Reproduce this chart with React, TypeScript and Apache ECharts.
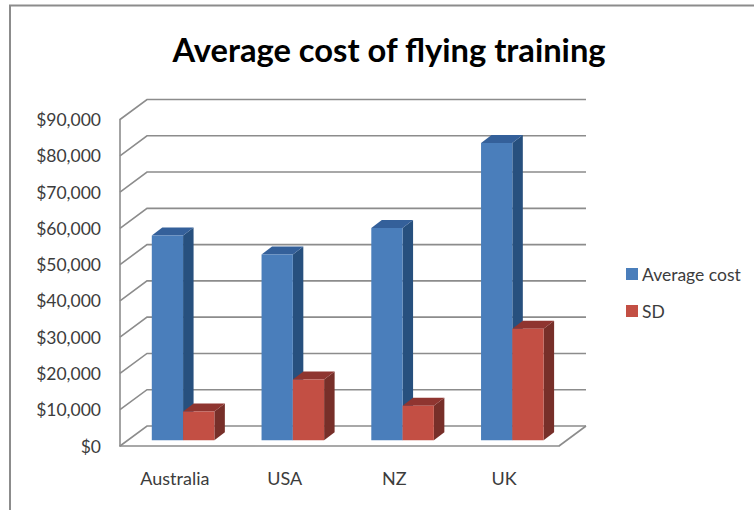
import React, { useEffect, useRef } from "react";
import * as echarts from "echarts";

const chartTitle = "Average cost of flying training";
const categories = ["Australia", "USA", "NZ", "UK"];
const seriesNames = ["Average cost", "SD"];
const averageCost = [56400, 51200, 58500, 81900];
const standardDeviation = [7900, 16700, 9500, 30700];
const yTicks = [0, 10000, 20000, 30000, 40000, 50000, 60000, 70000, 80000, 90000];

const FONT = "Lato";
const GRID_LINE = "#8c8c8c";
const TEXT = "#3c3c3c";
const WALL_DX = 27;
const WALL_DY = 20;
const BAR_INSET_X = 8.2;
const BAR_INSET_Y = 5.8;
const BAR_DX = 10.5;
const BAR_DY = 8;
const BAR_BAND_RATIO = 0.285;

const palettes = [
  { front: "#4a7ebb", top: "#34609a", side: "#27507e" },
  { front: "#c34f44", top: "#8f3530", side: "#772f29" },
];

const fmt = (v: number) => "$" + v.toLocaleString("en-US");

const renderWall = (params: any, api: any) => {
  const cs = params.coordSys;
  const value = api.value(1);
  const y = api.coord([0, value])[1];
  const x0 = cs.x;
  const x1 = x0 + WALL_DX;
  const x2 = cs.x + cs.width + WALL_DX;
  const lineStyle = { stroke: GRID_LINE, lineWidth: 1.6, fill: "none" };
  const children: any[] = [
    {
      type: "polyline",
      shape: { points: [[x0, y], [x1, y - WALL_DY], [x2, y - WALL_DY]] },
      style: lineStyle,
    },
  ];
  if (value === 0) {
    children.push({
      type: "line",
      shape: { x1: cs.x + cs.width, y1: y, x2, y2: y - WALL_DY },
      style: lineStyle,
    });
  }
  return { type: "group", children };
};

const renderBar = (seriesIndex: number) => (_params: any, api: any) => {
  const cat = api.value(0);
  const val = api.value(1);
  const band = api.size([1, 0])[0];
  const width = band * BAR_BAND_RATIO;
  const top = api.coord([cat, val]);
  const base = api.coord([cat, 0]);
  const left = top[0] + BAR_INSET_X - width + seriesIndex * width;
  const right = left + width;
  const yTop = top[1] - BAR_INSET_Y;
  const yBase = base[1] - BAR_INSET_Y;
  const p = palettes[seriesIndex];
  return {
    type: "group",
    children: [
      {
        type: "polygon",
        shape: { points: [[right, yTop], [right + BAR_DX, yTop - BAR_DY], [right + BAR_DX, yBase - BAR_DY], [right, yBase]] },
        style: { fill: p.side },
      },
      {
        type: "polygon",
        shape: { points: [[left, yTop], [left + BAR_DX, yTop - BAR_DY], [right + BAR_DX, yTop - BAR_DY], [right, yTop]] },
        style: { fill: p.top },
      },
      {
        type: "rect",
        shape: { x: left, y: yTop, width, height: yBase - yTop },
        style: { fill: p.front },
      },
    ],
  };
};

export default function App() {
  const ref = useRef<HTMLDivElement>(null);
  useEffect(() => {
    const chart = echarts.init(ref.current!, null, { renderer: "svg" });
    chart.setOption({
      animation: false,
      backgroundColor: "#ffffff",
      textStyle: { fontFamily: FONT },
      title: {
        text: chartTitle,
        left: 384,
        top: 28,
        textAlign: "center",
        textStyle: { fontFamily: FONT, fontWeight: "bold", fontSize: 32.7, color: "#000000" },
      },
      legend: {
        data: seriesNames,
        orient: "vertical",
        left: 626,
        top: 265,
        padding: 0,
        icon: "rect",
        itemWidth: 12,
        itemHeight: 12,
        itemGap: 19,
        selectedMode: false,
        textStyle: { fontFamily: FONT, fontSize: 17.5, color: TEXT, padding: [0, 0, 0, -1] },
      },
      grid: { left: 120, top: 119.5, width: 439, height: 326.5 },
      xAxis: {
        type: "category",
        data: categories,
        axisLine: { show: true, lineStyle: { color: GRID_LINE, width: 1.6 } },
        axisTick: { show: false },
        axisLabel: { margin: 23, fontFamily: FONT, fontSize: 18, color: TEXT },
      },
      yAxis: {
        type: "value",
        min: 0,
        max: 90000,
        interval: 10000,
        splitLine: { show: false },
        axisTick: { show: false },
        axisLine: { show: true, lineStyle: { color: GRID_LINE, width: 1.6 } },
        axisLabel: { margin: 19, fontFamily: FONT, fontSize: 17.5, color: TEXT, formatter: fmt },
      },
      graphic: [
        {
          type: "polyline",
          silent: true,
          shape: { points: [[10, 510], [10, 5.5], [754, 5.5]] },
          style: { stroke: GRID_LINE, lineWidth: 2, fill: "none" },
        },
      ],
      series: [
        {
          type: "custom",
          name: "walls",
          silent: true,
          clip: false,
          z: 1,
          renderItem: renderWall,
          encode: { x: 0, y: 1 },
          data: yTicks.map((t) => [0, t]),
        },
        {
          type: "custom",
          name: seriesNames[0],
          silent: true,
          clip: false,
          z: 2,
          itemStyle: { color: palettes[0].front },
          renderItem: renderBar(0),
          encode: { x: 0, y: 1 },
          data: averageCost.map((v, i) => [i, v]),
        },
        {
          type: "custom",
          name: seriesNames[1],
          silent: true,
          clip: false,
          z: 3,
          itemStyle: { color: palettes[1].front },
          renderItem: renderBar(1),
          encode: { x: 0, y: 1 },
          data: standardDeviation.map((v, i) => [i, v]),
        },
      ],
    });
    return () => chart.dispose();
  }, []);
  return <div ref={ref} style={{ position: "fixed", left: 0, top: 0, width: 754, height: 510 }} />;
}
